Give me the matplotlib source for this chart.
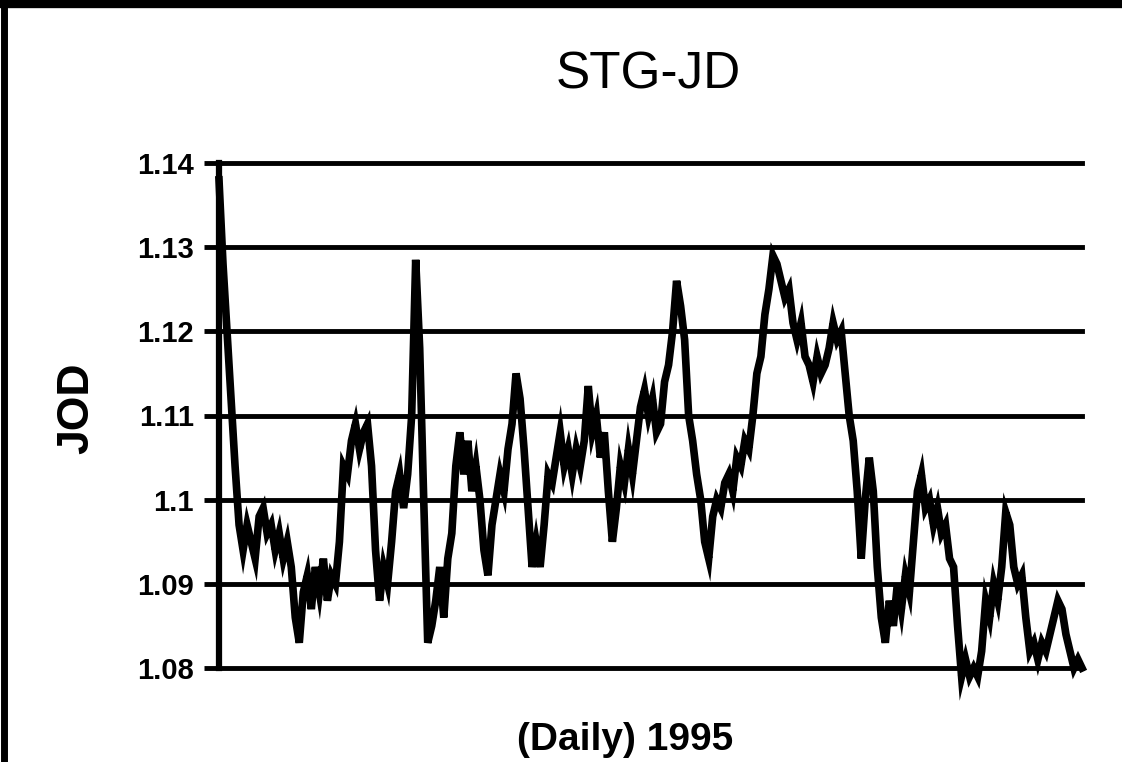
import matplotlib
matplotlib.use("Agg")
import matplotlib.pyplot as plt
from matplotlib.lines import Line2D

title = "STG-JD"
x_label = "(Daily) 1995"
y_label = "JOD"
y_ticks = [1.08, 1.09, 1.10, 1.11, 1.12, 1.13, 1.14]
y_tick_labels = ["1.08", "1.09", "1.1", "1.11", "1.12", "1.13", "1.14"]

jod_values = [
    1.138, 1.128, 1.120, 1.112, 1.104, 1.097, 1.094, 1.097, 1.095, 1.093,
    1.098, 1.099, 1.096, 1.097, 1.094, 1.096, 1.093, 1.095, 1.092, 1.086,
    1.083, 1.089, 1.091, 1.087, 1.092, 1.089, 1.093, 1.088, 1.091, 1.090,
    1.095, 1.104, 1.103, 1.107, 1.109, 1.106, 1.108, 1.109, 1.104, 1.094,
    1.088, 1.092, 1.090, 1.095, 1.101, 1.103, 1.099, 1.103, 1.110, 1.1285,
    1.118, 1.100, 1.083, 1.085, 1.088, 1.092, 1.086, 1.093, 1.096, 1.104,
    1.108, 1.103, 1.107, 1.101, 1.104, 1.100, 1.094, 1.091, 1.097, 1.100,
    1.103, 1.101, 1.106, 1.109, 1.115, 1.112, 1.106, 1.099, 1.092, 1.095,
    1.092, 1.097, 1.103, 1.102, 1.105, 1.108, 1.104, 1.106, 1.103, 1.106,
    1.104, 1.107, 1.1135, 1.108, 1.110, 1.105, 1.108, 1.101, 1.095, 1.099,
    1.104, 1.102, 1.106, 1.103, 1.107, 1.111, 1.113, 1.110, 1.112, 1.108,
    1.109, 1.114, 1.116, 1.120, 1.126, 1.123, 1.119, 1.110, 1.107, 1.103,
    1.100, 1.095, 1.093, 1.098, 1.100, 1.099, 1.102, 1.103, 1.101, 1.105,
    1.104, 1.107, 1.106, 1.110, 1.115, 1.117, 1.122, 1.125, 1.129, 1.128,
    1.126, 1.124, 1.125, 1.121, 1.119, 1.121, 1.117, 1.116, 1.114, 1.117,
    1.115, 1.116, 1.118, 1.121, 1.119, 1.120, 1.115, 1.110, 1.107, 1.101,
    1.093, 1.100, 1.105, 1.101, 1.092, 1.086, 1.083, 1.088, 1.085, 1.090,
    1.087, 1.091, 1.089, 1.095, 1.101, 1.103, 1.099, 1.100, 1.097, 1.099,
    1.096, 1.097, 1.093, 1.092, 1.085, 1.079, 1.081, 1.079, 1.080, 1.079,
    1.082, 1.088, 1.086, 1.090, 1.088, 1.092, 1.0985, 1.097, 1.092, 1.090,
    1.091, 1.086, 1.082, 1.083, 1.081, 1.083, 1.082, 1.084, 1.086, 1.088,
    1.087, 1.084, 1.082, 1.080, 1.081, 1.080,
]
days = list(range(len(jod_values)))

W, H = 1122, 762
fig = plt.figure(figsize=(W / 100, H / 100), dpi=100)
fig.patch.set_facecolor("white")

ax_left, ax_right = 219 / W, 1082 / W
ax_top, ax_bottom = 1 - 163 / H, 1 - 668 / H
ax = fig.add_axes([ax_left, ax_bottom, ax_right - ax_left, ax_top - ax_bottom])

ax.plot(days, jod_values, color="black", linewidth=5.5, solid_joinstyle="miter",
        clip_on=False, zorder=3)

for yv in y_ticks:
    ax.axhline(yv, color="black", linewidth=3.5, clip_on=False, zorder=1)

ax.set_xlim(0, len(jod_values) - 1)
ax.set_ylim(1.08, 1.14)
ax.set_yticks(y_ticks)
ax.set_yticklabels(y_tick_labels, fontsize=21, fontweight="bold",
                   family="Liberation Sans")
ax.set_xticks([])
ax.tick_params(axis="y", direction="out", length=11, width=3.5, pad=7, color="black")

for s in ["top", "right", "bottom"]:
    ax.spines[s].set_visible(False)
ax.spines["left"].set_linewidth(4.5)
ax.spines["left"].set_zorder(4)

fig.text(648 / W, 1 - 75 / H, title, ha="center", va="center", fontsize=37,
         family="Liberation Sans")
fig.text(625 / W, 1 - 740 / H, x_label, ha="center", va="center", fontsize=28,
         fontweight="bold", family="Liberation Sans")
fig.text(77 / W, 1 - 408 / H, y_label, ha="center", va="center", fontsize=32,
         fontweight="bold", rotation=90, family="Liberation Sans")

# scanned page frame (top and left edges)
fig.add_artist(Line2D([0, 1], [1 - 4 / H, 1 - 4 / H], transform=fig.transFigure,
                      color="black", linewidth=6))
fig.add_artist(Line2D([4 / W, 4 / W], [0, 1], transform=fig.transFigure,
                      color="black", linewidth=5))

fig.savefig("out.png", dpi=100)
